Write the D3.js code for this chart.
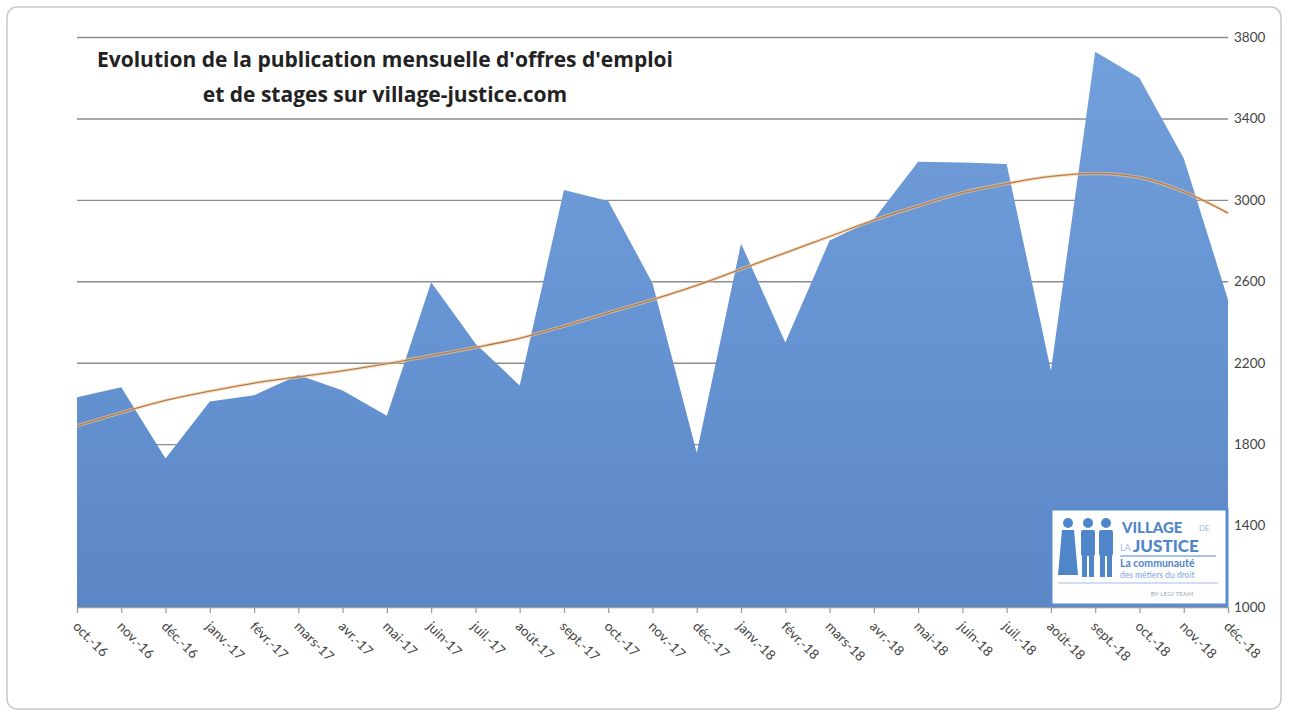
<!DOCTYPE html>
<html><head><meta charset="utf-8">
<script src="https://cdn.jsdelivr.net/npm/d3@7"></script>
<style>html,body{margin:0;padding:0;background:#fff;}svg{display:block;}</style>
</head><body>
<script>
const months = ["oct.-16","nov.-16","déc.-16","janv.-17","févr.-17","mars-17","avr.-17","mai-17","juin-17","juil.-17","août-17","sept.-17","oct.-17","nov.-17","déc.-17","janv.-18","févr.-18","mars-18","avr.-18","mai-18","juin-18","juil.-18","août-18","sept.-18","oct.-18","nov.-18","déc.-18"];
const offres = [2030,2080,1730,2010,2040,2140,2063,1940,2595,2295,2088,3048,2995,2590,1758,2786,2299,2800,2905,3187,3183,3176,2160,3727,3598,3205,2510];
const tendance = [1890,1955,2015,2060,2100,2130,2160,2195,2235,2275,2320,2380,2445,2510,2580,2660,2740,2820,2900,2970,3035,3080,3115,3130,3110,3040,2935];
const yTicks = [1000,1400,1800,2200,2600,3000,3400,3800];
const titleLines = ["Evolution de la publication mensuelle d'offres d'emploi","et de stages sur village-justice.com"];

const W = 1289, H = 713;
const svg = d3.select("body").append("svg").attr("width", W).attr("height", H);

// frame
svg.append("rect").attr("x",7).attr("y",7).attr("width",1274).attr("height",702).attr("rx",10)
  .attr("fill","#fff").attr("stroke","#c9c9c9").attr("stroke-width",1.5);

const x = d3.scalePoint().domain(months).range([77,1228]);
const y = d3.scaleLinear().domain([1000,3800]).range([607,37]);

const defs = svg.append("defs");
const grad = defs.append("linearGradient").attr("id","g")
  .attr("gradientUnits","userSpaceOnUse").attr("x1",0).attr("y1",y(3800)).attr("x2",0).attr("y2",y(1000));
grad.append("stop").attr("offset","0%").attr("stop-color","#72a0dc");
grad.append("stop").attr("offset","100%").attr("stop-color","#5b87c7");

// gridlines + right axis labels
const yAxis = d3.axisRight(y).tickValues(yTicks).tickSize(-(1228-77)).tickPadding(8).tickFormat(d3.format("d"));
const ga = svg.append("g").attr("transform","translate(1228,0)").call(yAxis);
ga.select(".domain").remove();
ga.selectAll(".tick line").attr("stroke","#8c8c8c").attr("stroke-width",1.4);
ga.selectAll(".tick text").attr("font-family","Lato, 'Open Sans', sans-serif").attr("font-size",13.5)
  .attr("fill","#444").attr("x",6);

// area
const area = d3.area().x((d,i)=>x(months[i])).y0(y(1000)).y1(d=>y(d));
svg.append("path").datum(offres).attr("d",area).attr("fill","url(#g)");

// bottom axis
const xAxis = d3.axisBottom(x).tickSize(6).tickFormat("");
const gx = svg.append("g").attr("transform",`translate(0,${y(1000)})`).call(xAxis);
gx.select(".domain").attr("stroke","#9a9a9a").attr("stroke-width",1.2);
gx.selectAll(".tick line").attr("stroke","#9a9a9a").attr("stroke-width",1.2);
gx.selectAll(".tick").append("text")
  .attr("transform","translate(-2,17) rotate(45)")
  .attr("text-anchor","start").attr("dy","0.35em")
  .attr("font-family","Lato, 'Open Sans', sans-serif").attr("font-size",13.5).attr("fill","#444")
  .text(d=>d);

// trendline
const line = d3.line().x((d,i)=>x(months[i])).y(d=>y(d)).curve(d3.curveMonotoneX);
svg.append("path").datum(tendance).attr("d",line).attr("fill","none")
  .attr("stroke","#f3cfa0").attr("stroke-width",3.5).attr("stroke-opacity",0.6);
svg.append("path").datum(tendance).attr("d",line).attr("fill","none")
  .attr("stroke","#b87a4a").attr("stroke-width",1.3);

// title
svg.append("g").selectAll("text").data(titleLines).join("text")
  .attr("x",385).attr("y",(d,i)=>67+i*35).attr("text-anchor","middle")
  .attr("font-family","'Open Sans', Lato, sans-serif").attr("font-weight","bold").attr("font-size",21)
  .attr("fill","#222").text(d=>d);

// logo
const lg = svg.append("g");
lg.append("rect").attr("x",1051).attr("y",509).attr("width",176).attr("height",96)
  .attr("fill","#fff").attr("stroke","#5a8ad0").attr("stroke-width",3);
const blue = "#4f86c9";
[[1068,0.95],[1088,1],[1106,1]].forEach(([cx,s],i)=>{
  const f = lg.append("g").attr("fill",blue);
  f.append("circle").attr("cx",cx).attr("cy",523).attr("r",5);
  if(i===0){
    f.append("path").attr("d",`M${cx-6},530 L${cx+6},530 L${cx+10},575 L${cx-10},575 Z`);
  } else {
    f.append("rect").attr("x",cx-7).attr("y",530).attr("width",14).attr("height",26).attr("rx",2);
    f.append("rect").attr("x",cx-6).attr("y",555).attr("width",5).attr("height",22);
    f.append("rect").attr("x",cx+1).attr("y",555).attr("width",5).attr("height",22);
  }
});
lg.append("text").attr("x",1122).attr("y",533).attr("font-family","Lato, sans-serif").attr("font-weight","900")
  .attr("font-size",15).attr("fill",blue).text("VILLAGE");
lg.append("text").attr("x",1199).attr("y",531).attr("font-family","Lato, sans-serif")
  .attr("font-size",8).attr("fill","#9dbde6").text("DE");
lg.append("text").attr("x",1120).attr("y",551).attr("font-family","Lato, sans-serif")
  .attr("font-size",9).attr("fill","#9dbde6").text("LA");
lg.append("text").attr("x",1133).attr("y",552).attr("font-family","Lato, sans-serif").attr("font-weight","900")
  .attr("font-size",17).attr("fill",blue).text("JUSTICE");
lg.append("line").attr("x1",1120).attr("x2",1216).attr("y1",556).attr("y2",556).attr("stroke",blue).attr("stroke-width",1);
lg.append("text").attr("x",1120).attr("y",567).attr("font-family","Lato, sans-serif").attr("font-weight","bold")
  .attr("font-size",10.5).attr("fill",blue).text("La communauté");
lg.append("text").attr("x",1120).attr("y",578).attr("font-family","Lato, sans-serif")
  .attr("font-size",8.5).attr("fill","#7fa6dc").text("des métiers du droit");
lg.append("line").attr("x1",1058).attr("x2",1218).attr("y1",583).attr("y2",583).attr("stroke","#9dbde6").attr("stroke-width",1);
lg.append("text").attr("x",1172).attr("y",596).attr("text-anchor","middle").attr("font-family","Lato, sans-serif")
  .attr("font-size",6.5).attr("fill","#9aa8b8").text("BY LEGI TEAM");
</script>
</body></html>
